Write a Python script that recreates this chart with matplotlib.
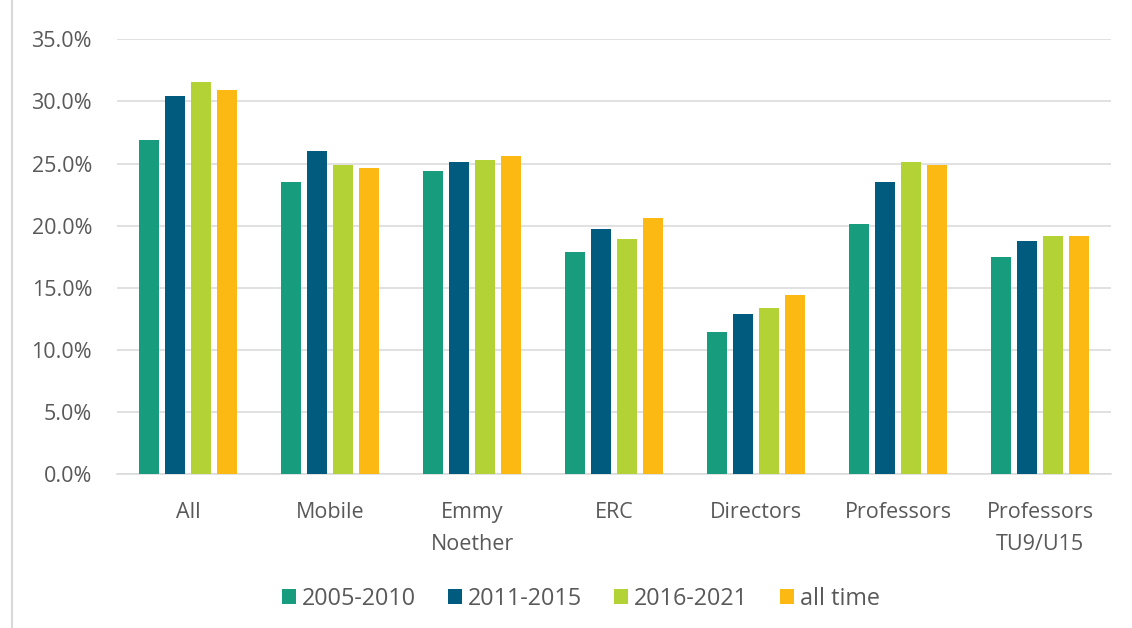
import matplotlib
matplotlib.use("Agg")
import matplotlib.pyplot as plt
from matplotlib.lines import Line2D
from matplotlib.ticker import FuncFormatter
import numpy as np

# data (share in %)
categories = ["All", "Mobile", "Emmy\nNoether", "ERC", "Directors", "Professors", "Professors\nTU9/U15"]
series_names = ["2005-2010", "2011-2015", "2016-2021", "all time"]
p2005_2010 = [26.9, 23.5, 24.4, 17.9, 11.4, 20.1, 17.5]
p2011_2015 = [30.4, 26.0, 25.1, 19.7, 12.9, 23.5, 18.8]
p2016_2021 = [31.6, 24.9, 25.3, 18.9, 13.4, 25.1, 19.2]
all_time = [30.9, 24.6, 25.6, 20.6, 14.4, 24.9, 19.2]
colors = ["#179C7D", "#005B7F", "#B2D235", "#FDB913"]

plt.rcParams['font.family'] = ['Open Sans', 'DejaVu Sans']
text_color = "#595959"
grid_color = "#D9D9D9"

fig = plt.figure(figsize=(11.32, 6.28), dpi=100)
ax = fig.add_axes([0.1034, 0.2452, 0.878, 0.6922])

x = np.arange(len(categories))
step = 0.183
width = 0.146
for i, (vals, name) in enumerate(zip([p2005_2010, p2011_2015, p2016_2021, all_time], series_names)):
    ax.bar(x + (i - 1.5) * step, vals, width, color=colors[i], label=name, zorder=3)

ax.set_xlim(-0.5, len(categories) - 0.5)
ax.set_ylim(0, 35)
ax.set_yticks(np.arange(0, 35.1, 5))
ax.yaxis.set_major_formatter(FuncFormatter(lambda v, p: "%.1f%%" % v))
ax.set_xticks(x)
ax.set_xticklabels(categories, linespacing=1.67)

ax.grid(axis="y", color=grid_color, linewidth=1.1, zorder=0)
for side in ["top", "right", "left"]:
    ax.spines[side].set_visible(False)
ax.spines["bottom"].set_color(grid_color)
ax.spines["bottom"].set_linewidth(1.1)
ax.tick_params(axis="both", length=0, labelsize=15.5, colors=text_color)
ax.tick_params(axis="y", pad=18)
ax.tick_params(axis="x", pad=20.5)

fig.legend(loc="center", bbox_to_anchor=(0.513, 0.046), ncol=4, frameon=False,
           fontsize=16.8, labelcolor=text_color, handlelength=0.6, handleheight=0.6,
           handletextpad=0.25, columnspacing=1.37)

# left border of the chart frame
fig.add_artist(Line2D([0.011, 0.011], [0, 1], color=grid_color, linewidth=1.5))

fig.savefig("out.png", dpi=100)
